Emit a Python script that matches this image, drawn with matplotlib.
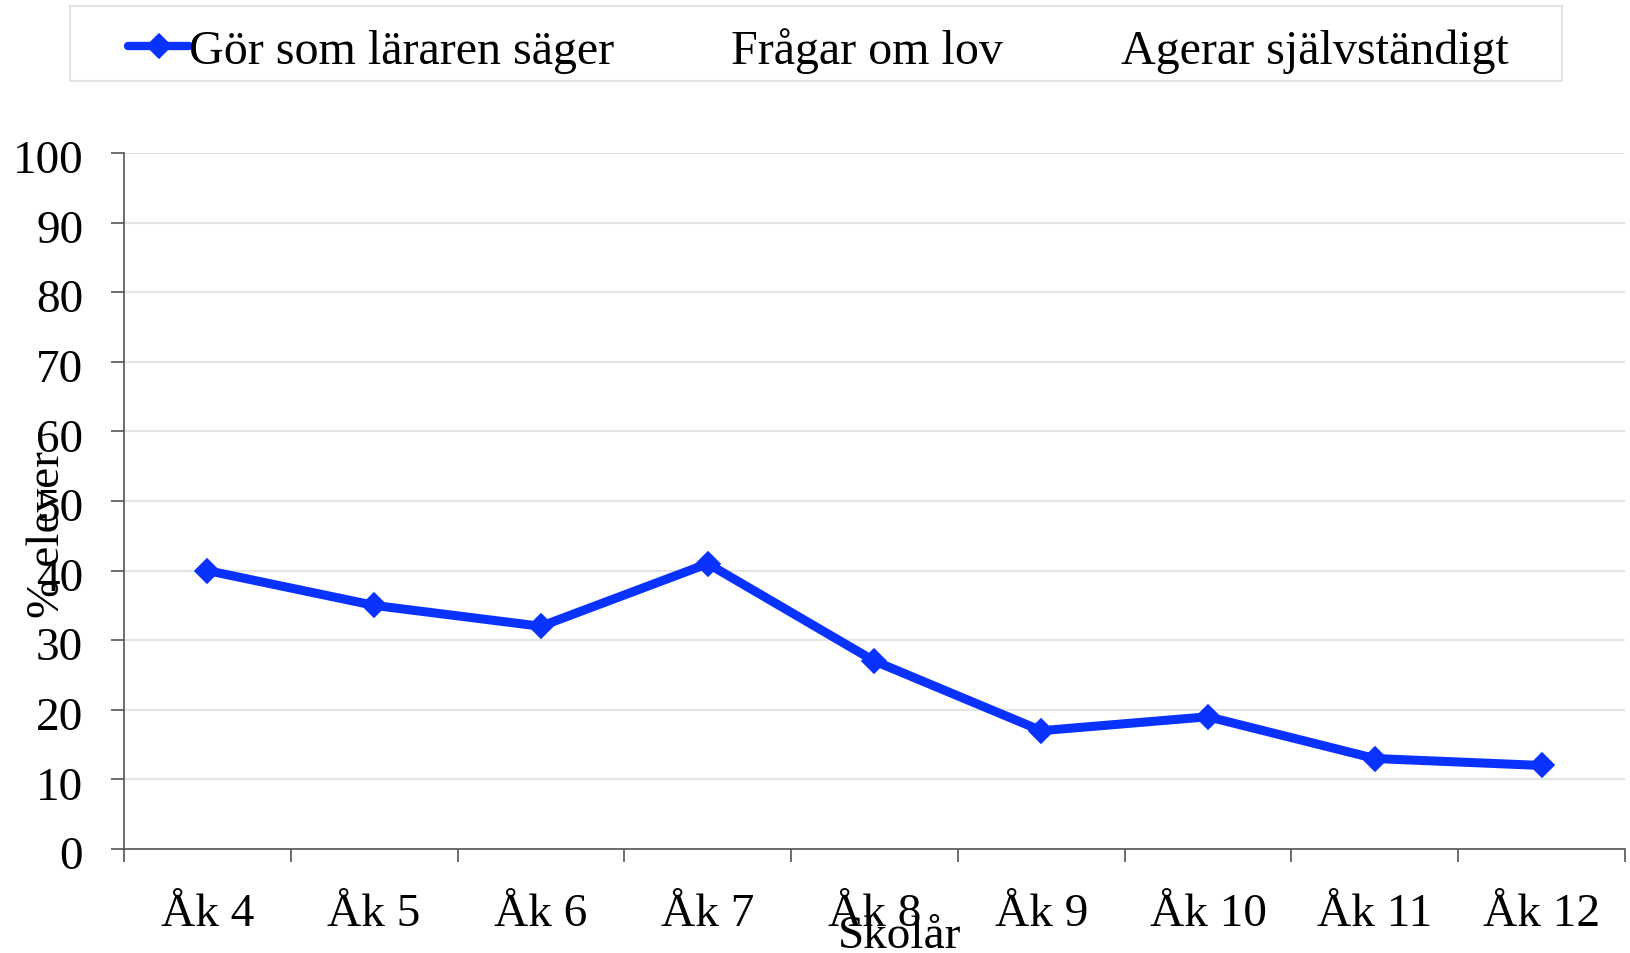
import matplotlib
matplotlib.use('Agg')
import matplotlib.pyplot as plt
from matplotlib.lines import Line2D
from matplotlib.patches import Rectangle
from matplotlib.transforms import ScaledTranslation

# data
grades = ['Åk 4', 'Åk 5', 'Åk 6', 'Åk 7', 'Åk 8', 'Åk 9', 'Åk 10', 'Åk 11', 'Åk 12']
gor_som_lararen_sager = [40, 35, 32, 41, 27, 17, 19, 13, 12]
series_names = ['Gör som läraren säger', 'Frågar om lov', 'Agerar självständigt']
y_ticks = [0, 10, 20, 30, 40, 50, 60, 70, 80, 90, 100]

plt.rcParams['font.family'] = ['Liberation Serif', 'DejaVu Serif']
FS = 34
BLUE = '#0a32ff'
W, H = 1631, 954

fig = plt.figure(figsize=(W / 100, H / 100), dpi=100)
ax = fig.add_axes([124 / W, 1 - 850 / H, (1625 - 124) / W, (850 - 154) / H])

x = list(range(len(grades)))
ax.plot(x, gor_som_lararen_sager, color=BLUE, lw=6.5, marker='D', ms=12,
        mec=BLUE, mew=1.2, zorder=3, solid_joinstyle='miter')

ax.set_xlim(-0.5, len(grades) - 0.5)
ax.set_ylim(0, 100)
ax.set_yticks(y_ticks)
ax.set_xticks(x)
ax.set_xticklabels(grades)
ax.set_xticks([i - 0.5 for i in range(len(grades) + 1)], minor=True)

ax.tick_params(axis='x', which='major', length=0, pad=31.5, labelsize=FS)
ax.tick_params(axis='x', which='minor', length=9.4, width=1.2, color='#555555', direction='out')
ax.tick_params(axis='y', length=9.4, width=1.2, color='#555555', direction='out', pad=20, labelsize=FS)

# y tick labels sit a touch lower in the original
shift = ScaledTranslation(0, -3 / 100, fig.dpi_scale_trans)
for lab in ax.get_yticklabels():
    lab.set_transform(lab.get_transform() + shift)

ax.grid(axis='y', color='#e4e4e4', lw=1.5)
ax.set_axisbelow(True)
for s in ['top', 'right']:
    ax.spines[s].set_visible(False)
for s in ['left', 'bottom']:
    ax.spines[s].set_color('#555555')
    ax.spines[s].set_linewidth(1.2)

# axis titles (overlapping the ticks, as in the original)
fig.text(48 / W, 1 - 535 / H, '% elever', rotation=90, ha='center', va='center', fontsize=FS)
fig.text(900 / W, 1 - 948 / H, 'Skolår', ha='center', va='baseline', fontsize=FS)

# legend: only the first series has a drawn line
handles = [Line2D([], [], color=BLUE, lw=6, marker='D', ms=12, mec=BLUE, mew=1.2,
                  solid_capstyle='round'),
           Line2D([], [], color='none'),
           Line2D([], [], color='none')]
fig.legend(handles, series_names, loc='center left', bbox_to_anchor=(128 / W, 1 - 51 / H),
           ncol=3, frameon=False, fontsize=34.6, handlelength=1.27, handletextpad=0,
           columnspacing=1.17, borderpad=0, borderaxespad=0)
fig.add_artist(Rectangle((70 / W, 1 - 82 / H), (1562 - 70) / W, (82 - 7) / H,
                         transform=fig.transFigure, fill=False, edgecolor='#e4e4e4', lw=1.5))

fig.savefig('out.png', dpi=100)
